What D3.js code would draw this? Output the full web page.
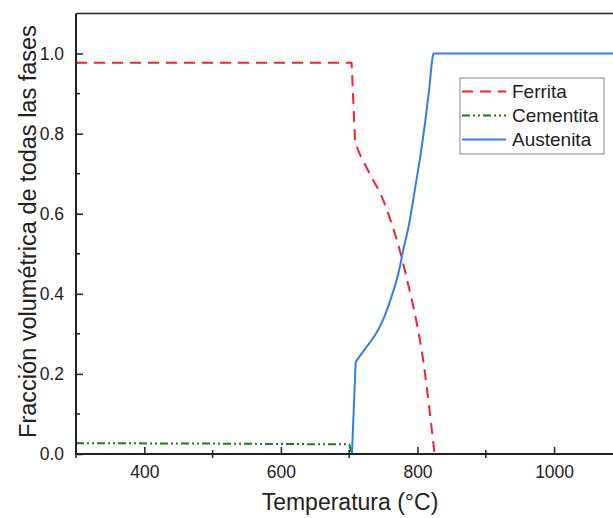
<!DOCTYPE html>
<html>
<head>
<meta charset="utf-8">
<script src="https://cdn.jsdelivr.net/npm/d3@7"></script>
<style>
  body { margin: 0; background: #fff; }
  text { font-family: "Liberation Sans", Arial, sans-serif; fill: #222; }
</style>
</head>
<body>
<svg id="chart" width="613" height="518"></svg>
<script>
// data
var ferritaT = [300, 703.5, 708.5, 713, 730, 747, 762, 774, 786, 796, 806, 813.5, 825];
var ferritaV = [0.977, 0.977, 0.784, 0.759, 0.70, 0.645, 0.576, 0.509, 0.426, 0.351, 0.26, 0.168, 0.0];
var cementitaT = [300, 500, 700, 704];
var cementitaV = [0.027, 0.026, 0.024, 0.0];
var austenitaT = [704, 709.5, 723, 738, 750, 762, 772, 779, 787, 796, 804, 811, 817, 822, 823.5, 1100];
var austenitaV = [0.0, 0.23, 0.262, 0.297, 0.337, 0.393, 0.451, 0.509, 0.568, 0.659, 0.742, 0.826, 0.909, 0.99, 1.0, 1.0];
var xTicks = [400, 600, 800, 1000];
var xMinor = [300, 500, 700, 900, 1100];
var yTicks = [0, 0.2, 0.4, 0.6, 0.8, 1.0];
var yMinor = [0.1, 0.3, 0.5, 0.7, 0.9];
var seriesNames = ["Ferrita", "Cementita", "Austenita"];

var svg = d3.select("#chart");

var x = d3.scaleLinear().domain([300, 1100]).range([76, 622.4]);
var y = d3.scaleLinear().domain([0, 1.1]).range([454, 13.5]);

// smooth: index range of points drawn with a smooth curve (kinks stay sharp)
var series = [
  {name: seriesNames[0], t: ferritaT, v: ferritaV, color: "#f5222d", dash: "11,7", smooth: [2, 12]},
  {name: seriesNames[1], t: cementitaT, v: cementitaV, color: "#1a7f1a", dash: "8,3,2,3,2,3", smooth: null},
  {name: seriesNames[2], t: austenitaT, v: austenitaV, color: "#3180e0", dash: null, smooth: [1, 14]}
];

var line = d3.line()
  .x(function(d) { return x(d[0]); })
  .y(function(d) { return y(d[1]); });
var curve = d3.line()
  .x(function(d) { return x(d[0]); })
  .y(function(d) { return y(d[1]); })
  .curve(d3.curveCatmullRom.alpha(0.5));

svg.append("clipPath").attr("id", "clip")
  .append("rect").attr("x", 76).attr("y", 12).attr("width", 560).attr("height", 443);

var plot = svg.append("g").attr("clip-path", "url(#clip)");
series.forEach(function(s) {
  var pts = d3.zip(s.t, s.v);
  var d;
  if (s.smooth) {
    var a = s.smooth[0], b = s.smooth[1];
    var head = line(pts.slice(0, a + 1));
    var mid = curve(pts.slice(a, b + 1));
    var tail = line(pts.slice(b));
    d = head + mid.replace(/^M[^CL]*/, "") + tail.replace(/^M[^L]*/, "");
  } else {
    d = line(pts);
  }
  plot.append("path")
    .attr("fill", "none")
    .attr("stroke", s.color)
    .attr("stroke-width", 2)
    .attr("stroke-linejoin", "round")
    .attr("stroke-dasharray", s.dash)
    .attr("d", d);
});

// frame
svg.append("line").attr("x1", 76).attr("x2", 613).attr("y1", y(1.1)).attr("y2", y(1.1))
  .attr("stroke", "#222").attr("stroke-width", 1.5);

// x axis
var xAxis = svg.append("g")
  .attr("transform", "translate(0," + y(0) + ")")
  .call(d3.axisBottom(x).tickValues(xTicks).tickSize(-7).tickPadding(12).tickFormat(d3.format("d")));
xAxis.selectAll(".tick text").attr("font-size", 17.5).attr("dy", "0.71em");
xAxis.selectAll(".tick line").attr("stroke", "#222").attr("stroke-width", 1.5);
xAxis.select(".domain").attr("stroke", "#222").attr("stroke-width", 2).attr("d", "M76,0H613");
svg.append("g").selectAll("line").data(xMinor).enter().append("line")
  .attr("x1", function(d) { return x(d); }).attr("x2", function(d) { return x(d); })
  .attr("y1", y(0) - 4).attr("y2", y(0) + 4)
  .attr("stroke", "#222").attr("stroke-width", 1.5);

// y axis
var yAxis = svg.append("g")
  .attr("transform", "translate(76,0)")
  .call(d3.axisLeft(y).tickValues(yTicks).tickSize(-7).tickPadding(12).tickFormat(d3.format(".1f")));
yAxis.selectAll(".tick text").attr("font-size", 17.5);
yAxis.selectAll(".tick line").attr("stroke", "#222").attr("stroke-width", 1.5);
yAxis.select(".domain").attr("stroke", "#222").attr("stroke-width", 2).attr("d", "M0," + y(1.1) + "V" + (y(0) + 1));
svg.append("g").selectAll("line").data(yMinor).enter().append("line")
  .attr("x1", 76).attr("x2", 80)
  .attr("y1", function(d) { return y(d); }).attr("y2", function(d) { return y(d); })
  .attr("stroke", "#222").attr("stroke-width", 1.5);

// axis titles
svg.append("text")
  .attr("x", 350).attr("y", 510)
  .attr("text-anchor", "middle").attr("font-size", 23)
  .text("Temperatura (°C)");
svg.append("text")
  .attr("transform", "translate(35.5,231.5) rotate(-90)")
  .attr("text-anchor", "middle").attr("font-size", 23.5)
  .text("Fracción volumétrica de todas las fases");

// legend
var legend = svg.append("g");
legend.append("rect")
  .attr("x", 460).attr("y", 78).attr("width", 144).attr("height", 76)
  .attr("fill", "#fff").attr("stroke", "#888").attr("stroke-width", 1);
series.forEach(function(s, i) {
  var ly = 91.5 + i * 24;
  legend.append("line")
    .attr("x1", 462).attr("x2", 506).attr("y1", ly).attr("y2", ly)
    .attr("stroke", s.color).attr("stroke-width", 2)
    .attr("stroke-dasharray", s.dash);
  legend.append("text")
    .attr("x", 512).attr("y", ly).attr("dy", "0.35em")
    .attr("font-size", 19)
    .text(s.name);
});
</script>
</body>
</html>
